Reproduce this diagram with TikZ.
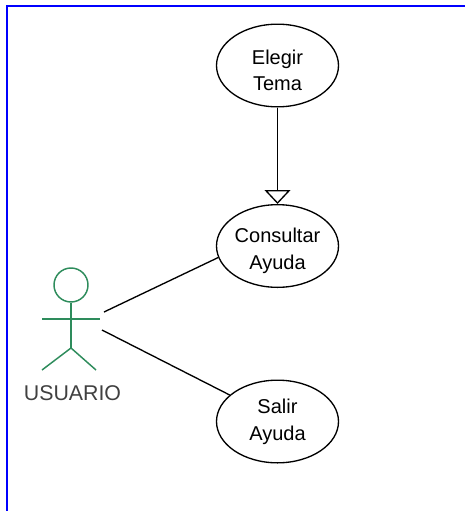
\documentclass[tikz,border=0pt]{standalone}
\usepackage{fontspec}
\setmainfont{Liberation Sans}
\usetikzlibrary{shapes.geometric,arrows.meta}
\definecolor{c0}{rgb}{0.0,0.0,1.0}
\definecolor{c1}{rgb}{0.18,0.55,0.36}
\tikzset{%
  usecase/.style={ellipse,draw,line width=1pt,inner sep=0pt,minimum width=91.5pt,minimum height=62pt,align=center,font=\fontsize{15}{20}\selectfont},
  usecaselow/.style={usecase,text height=38pt},
  actorline/.style={c1,line width=1.1pt}
}
\begin{document}
\begin{tikzpicture}[x=0.75pt,y=-0.75pt]
  \useasboundingbox (0,0) rectangle (465,511);
  % Boundary
  \coordinate (b0) at (7,511);
  \coordinate (b1) at (7,6);
  \coordinate (b2) at (465,6);
  \draw[c0,line width=1.5pt] (b0) -- (b1) -- (b2);
  % Use cases
  \node[usecaselow] (elegir) at (277.5,65.5) {Elegir\\Tema};
  \node[usecaselow] (consultar) at (277.5,246) {Consultar\\Ayuda};
  \node[usecase] (salir) at (277.5,421.5) {Salir\\Ayuda};
  % Actor
  \node[circle,draw=c1,line width=1.1pt,minimum size=25.5pt,inner sep=0pt] (head) at (71,285) {};
  \coordinate (hip) at (71,348);
  \coordinate (armL) at (42,319);
  \coordinate (armR) at (100,319);
  \coordinate (legL) at (42,370);
  \coordinate (legR) at (96,370);
  \draw[actorline] (head.south) -- (hip);
  \draw[actorline] (armL) -- (armR);
  \draw[actorline] (legL) -- (hip) -- (legR);
  \node[font=\fontsize{16}{19}\selectfont,text=black!75] (usuario) at (72.5,393) {USUARIO};
  % Links
  \coordinate (a0) at (104,312);
  \coordinate (a1) at (102,330);
  \draw[line width=1pt,-{Triangle[open,length=10.5pt,width=19.5pt]}] (elegir.south) -- (consultar.north);
  \draw[line width=1pt] (a0) -- (consultar.191);
  \draw[line width=1pt] (a1) -- (salir.151);
\end{tikzpicture}
\end{document}
